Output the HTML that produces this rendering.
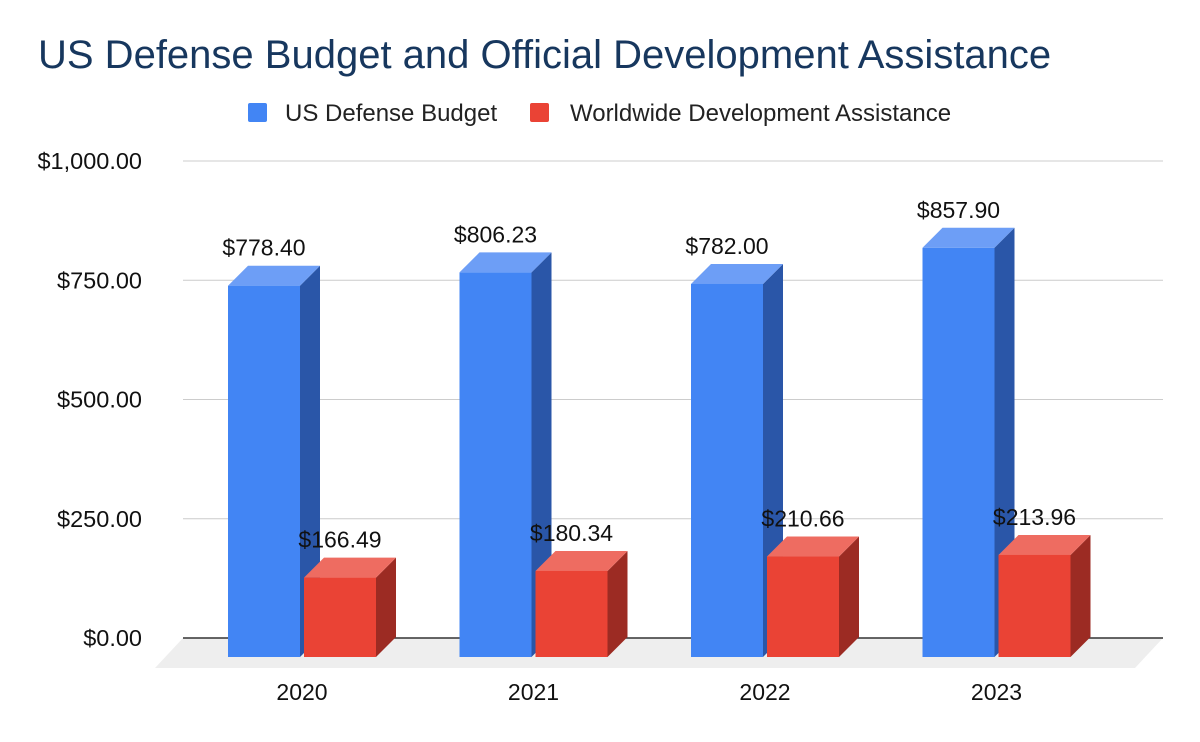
<!DOCTYPE html>
<html><head><meta charset="utf-8"><style>
body{margin:0;background:#fff;font-family:"Liberation Sans",Arial,sans-serif}
svg{display:block}
</style></head><body>
<svg id="chart" width="1200" height="742">
<text x="38" y="68" font-size="40" fill="#17375e">US Defense Budget and Official Development Assistance</text>
<g>
<rect x="248" y="103" width="19" height="19" rx="2" fill="#4285f4"/>
<text x="285" y="121" font-size="24" fill="#222">US Defense Budget</text>
<rect x="530" y="103" width="19" height="19" rx="2" fill="#ea4335"/>
<text x="570" y="121" font-size="24" fill="#222">Worldwide Development Assistance</text>
</g>
<polygon points="183,638 1163,638 1135,668 155,668" fill="#eeeeee"/>
<g id="grid"></g><g id="bars"></g>
</svg>
<script>
const categories=["2020","2021","2022","2023"];
const defense=[778.40,806.23,782.00,857.90];
const assistance=[166.49,180.34,210.66,213.96];
const ticks=[0,250,500,750,1000];
const tickLabels=["$0.00","$250.00","$500.00","$750.00","$1,000.00"];
const NS="http://www.w3.org/2000/svg";
const grid=document.getElementById('grid'),bars=document.getElementById('bars');
const y0=638,k=477/1000,D=20;
function yv(v){return y0-v*k;}
function cx(i){return 300+i*231.5;}
function mk(p,tag,a){const e=document.createElementNS(NS,tag);for(const n in a)e.setAttribute(n,a[n]);p.appendChild(e);return e;}
ticks.forEach((t,i)=>{
 const l=mk(grid,'line',{x1:183,x2:1163,y1:yv(t),y2:yv(t),stroke:t===0?'#333':'#ccc','stroke-width':t===0?1.5:1});
 
 
 const tx=mk(grid,'text',{x:142,y:yv(t)+8,'font-size':23.5,'text-anchor':'end',fill:'#111'});
 tx.textContent=tickLabels[i];
 
 
});
function bar(x,v,front,side,top,name){
 const g=mk(bars,'g',{});
 
 
 const w=72,b=y0+19,t=b-v*k;
 mk(g,'polygon',{points:`${x+w},${b} ${x+w+D},${b-D} ${x+w+D},${t-D} ${x+w},${t}`,fill:side});
 mk(g,'polygon',{points:`${x},${t} ${x+D},${t-D} ${x+w+D},${t-D} ${x+w},${t}`,fill:top});
 mk(g,'rect',{x:x,y:t,width:w,height:b-t,fill:front});
 const tx=mk(g,'text',{x:x+w/2,y:t-D-10,'font-size':23,'text-anchor':'middle',fill:'#111'});
 tx.textContent='$'+v.toFixed(2);
}
categories.forEach((c,i)=>{
 const c0=cx(i);
 bar(c0-72,defense[i],'#4285f4','#2a56a8','#6d9ef6','bar-defense-'+c);
 bar(c0+4,assistance[i],'#ea4335','#9c2b23','#ee6c61','bar-assistance-'+c);
 const tx=mk(bars,'text',{x:c0+2,y:700,'font-size':23,'text-anchor':'middle',fill:'#111'});
 tx.textContent=c;
 
 
});
</script>
</body></html>
